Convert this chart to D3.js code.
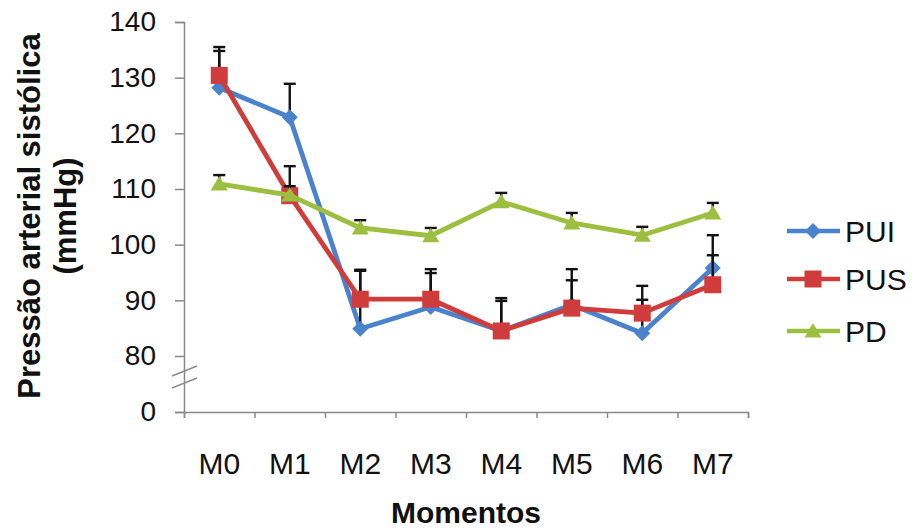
<!DOCTYPE html>
<html>
<head>
<meta charset="utf-8">
<script src="https://cdn.jsdelivr.net/npm/d3@7"></script>
<style>
  html, body { margin: 0; padding: 0; background: #fff; }
  svg { display: block; }
  text { font-family: "Liberation Sans", Arial, sans-serif; fill: #111; }
</style>
</head>
<body>
<svg id="chart" width="918" height="532"></svg>
<script>
// Moments of measurement
const categories = ["M0", "M1", "M2", "M3", "M4", "M5", "M6", "M7"];

// Mean systolic pressure (mmHg) per group
const pui = [128.2, 122.9, 84.9, 88.8, 84.5, 89.2, 84.1, 95.8];
const pus = [130.4, 108.8, 90.2, 90.2, 84.5, 88.6, 87.7, 92.8];
const pd  = [110.9, 108.9, 103.0, 101.6, 107.7, 103.9, 101.7, 105.7];

// Standard deviations (upper error bars only)
const puiSd = [7.3, 6.0, 10.6, 6.8, 5.9, 6.4, 8.5, 5.9];
const pusSd = [4.4, 5.3, 5.1, 4.7, 5.4, 5.0, 2.4, 5.3];
const pdSd  = [1.6, 1.6, 1.4, 1.4, 1.6, 1.8, 1.5, 1.8];

// Y axis ticks (broken axis: 0, then 80..140)
const yTicks = [0, 80, 90, 100, 110, 120, 130, 140];

const seriesNames = ["PUI", "PUS", "PD"];

const series = [
  { name: seriesNames[0], values: pui, sd: puiSd, color: "#4a82cc", shape: "diamond" },
  { name: seriesNames[1], values: pus, sd: pusSd, color: "#d03c3c", shape: "square" },
  { name: seriesNames[2], values: pd,  sd: pdSd,  color: "#9dbf3f", shape: "triangle" }
];

const svg = d3.select("#chart");
const plotLeft = 184, plotRight = 748, plotTop = 22, axisY = 412;

const x = d3.scaleBand().domain(categories).range([plotLeft, plotRight]);
// piecewise scale to leave a gap between 0 and 80
const y = d3.scaleLinear().domain([0, 80, 140]).range([axisY, 356, plotTop]);

const axisColor = "#8a8a8a";

// Y axis
const yAxis = svg.append("g")
  .attr("transform", `translate(${plotLeft},0)`)
  .call(d3.axisLeft(y).tickValues(yTicks).tickSize(9).tickPadding(19).tickFormat(d3.format("d")));
yAxis.selectAll("path, line").attr("stroke", axisColor).attr("stroke-width", 1.5);
yAxis.selectAll("text").style("font-size", "28px").attr("fill", "#111");

// Axis break marks
const brk = svg.append("g").attr("stroke", axisColor).attr("stroke-width", 1.5);
[371, 383].forEach(cy => {
  brk.append("line").attr("x1", plotLeft - 12).attr("y1", cy + 5).attr("x2", plotLeft + 13).attr("y2", cy - 5);
});

// X axis: tick marks at category boundaries
const xb = d3.scaleLinear().domain([0, categories.length]).range([plotLeft, plotRight]);
const xTicks = svg.append("g")
  .attr("transform", `translate(0,${axisY})`)
  .call(d3.axisBottom(xb).tickValues(d3.range(categories.length + 1)).tickSize(6).tickFormat(""));
xTicks.selectAll("path, line").attr("stroke", axisColor).attr("stroke-width", 1.5);

const xAxis = svg.append("g")
  .attr("transform", `translate(0,${axisY})`)
  .call(d3.axisBottom(x).tickSize(0).tickPadding(41));
xAxis.select(".domain").remove();
xAxis.selectAll("text").style("font-size", "30px").attr("fill", "#111");

// Axis titles
svg.append("text")
  .attr("x", (plotLeft + plotRight) / 2).attr("y", 523)
  .attr("text-anchor", "middle")
  .style("font-size", "30px").style("font-weight", "bold")
  .text("Momentos");

const yt = svg.append("text")
  .attr("transform", "translate(40,216) rotate(-90)")
  .attr("text-anchor", "middle")
  .style("font-size", "31px").style("font-weight", "bold");
yt.append("tspan").attr("x", 0).attr("dy", 0).text("Pressão arterial sistólica");
yt.append("tspan").attr("x", 0).attr("dy", 36).text("(mmHg)");

// Marker shapes
function marker(g, shape, color) {
  if (shape === "square") {
    g.append("rect").attr("x", -8.5).attr("y", -8.5).attr("width", 17).attr("height", 17).attr("fill", color);
  } else if (shape === "diamond") {
    g.append("path").attr("d", "M0,-8 L8,0 L0,8 L-8,0 Z").attr("fill", color);
  } else {
    g.append("path").attr("d", "M0,-8 L8.5,6.5 L-8.5,6.5 Z").attr("fill", color);
  }
}

const line = d3.line().x((d, i) => x(categories[i]) + x.bandwidth() / 2).y(d => y(d));

series.forEach(s => {
  const g = svg.append("g");
  g.append("path").datum(s.values)
    .attr("d", line).attr("fill", "none")
    .attr("stroke", s.color).attr("stroke-width", 4.8).attr("stroke-linejoin", "round");

  // upper error bars
  const eb = g.append("g").attr("stroke", "#111").attr("stroke-width", 2.4);
  s.values.forEach((v, i) => {
    const cx = x(categories[i]) + x.bandwidth() / 2;
    const yTop = y(v + s.sd[i]);
    eb.append("line").attr("x1", cx).attr("x2", cx).attr("y1", y(v)).attr("y2", yTop);
    eb.append("line").attr("x1", cx - 6).attr("x2", cx + 6).attr("y1", yTop).attr("y2", yTop);
  });

  s.values.forEach((v, i) => {
    const m = g.append("g").attr("transform", `translate(${x(categories[i]) + x.bandwidth() / 2},${y(v)})`);
    marker(m, s.shape, s.color);
  });
});

// Legend
const legend = svg.append("g");
series.forEach((s, i) => {
  const ly = [231, 279, 331][i];
  const g = legend.append("g").attr("transform", `translate(0,${ly})`);
  g.append("line").attr("x1", 787).attr("x2", 840).attr("y1", 0).attr("y2", 0)
    .attr("stroke", s.color).attr("stroke-width", 4.5);
  const m = g.append("g").attr("transform", "translate(813,0)");
  marker(m, s.shape, s.color);
  g.append("text").attr("x", 845).attr("y", 0).attr("dy", "0.36em")
    .style("font-size", "30px").text(s.name);
});
</script>
</body>
</html>
